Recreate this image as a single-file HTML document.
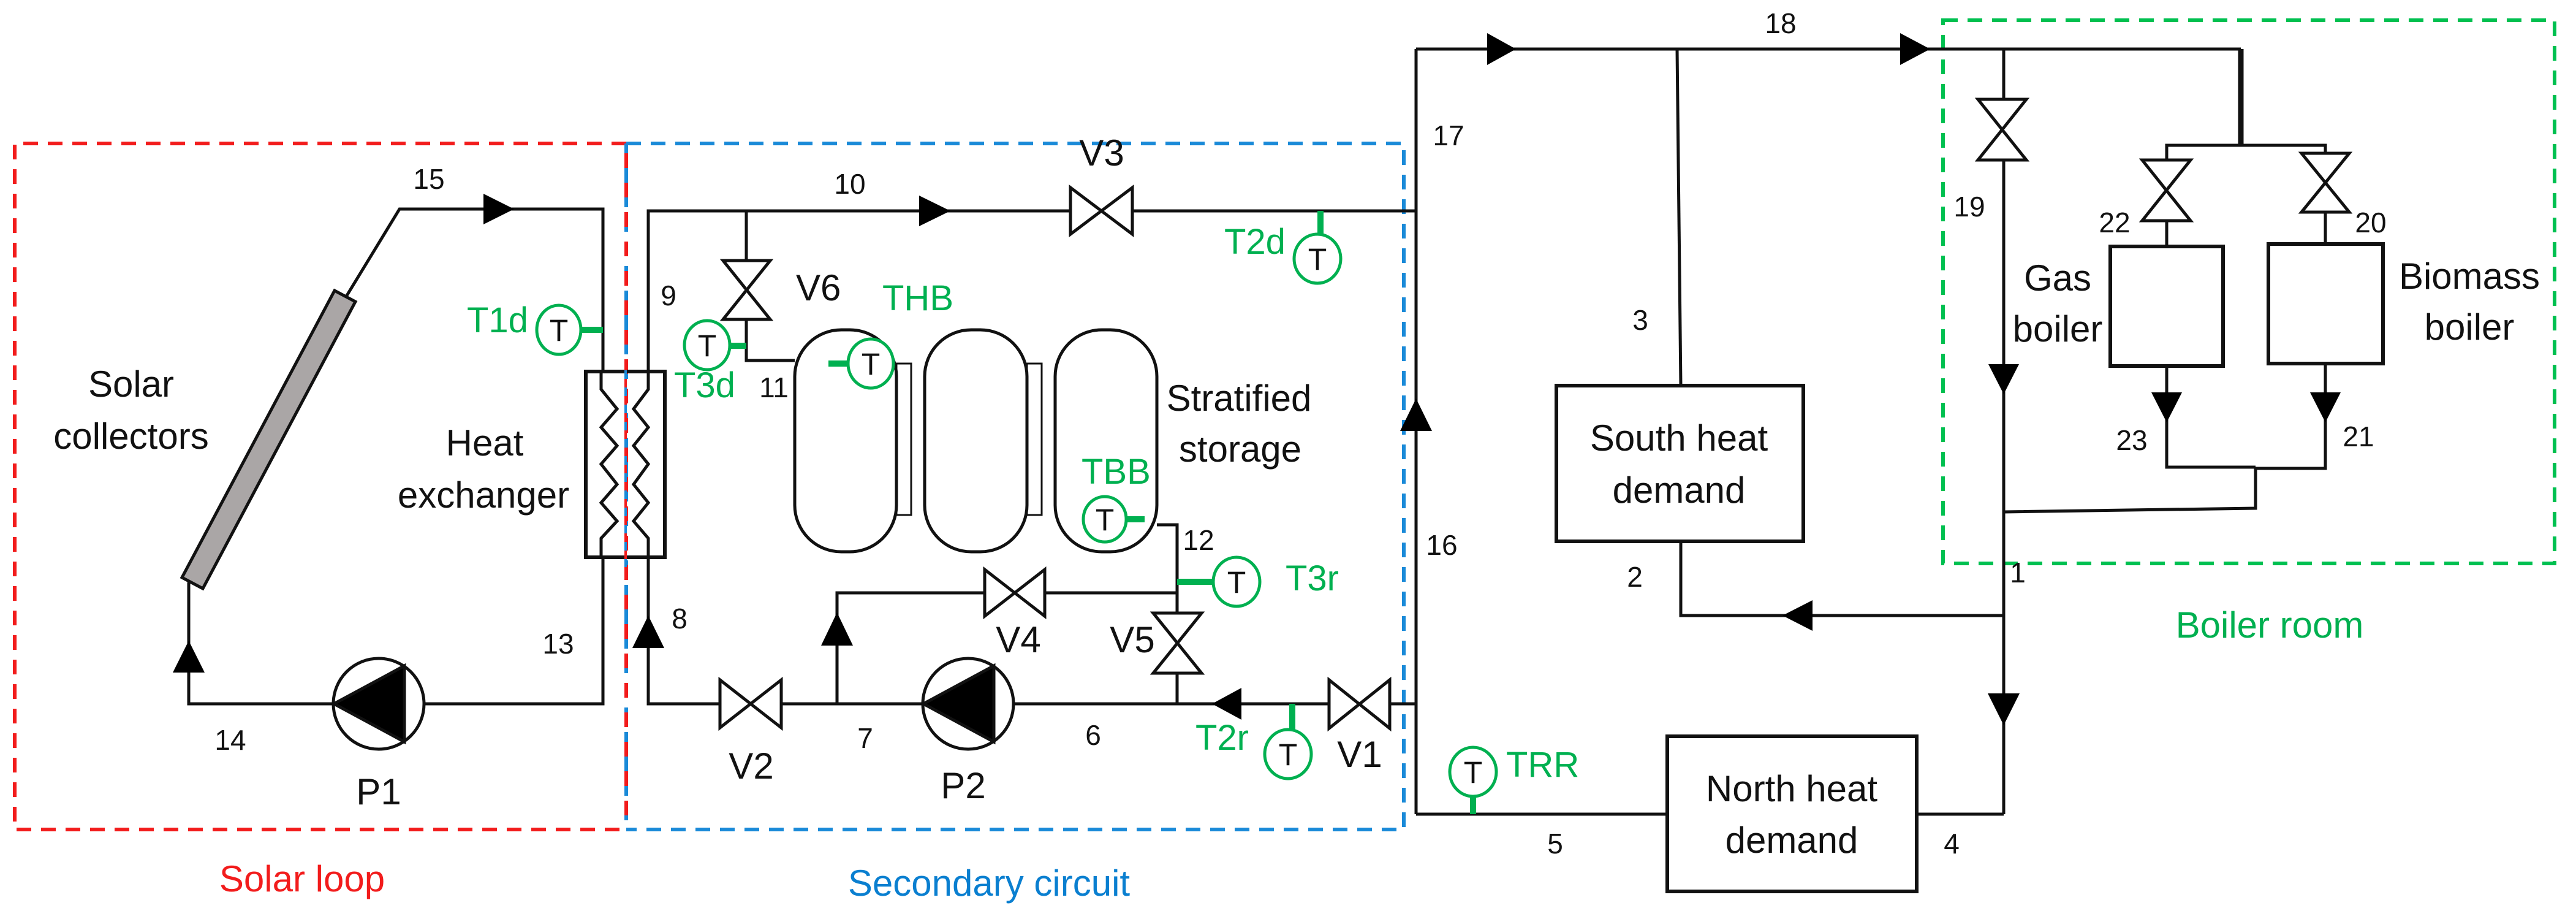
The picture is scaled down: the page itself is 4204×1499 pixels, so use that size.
<!DOCTYPE html>
<html><head><meta charset="utf-8"><style>
html,body{margin:0;padding:0;background:#fff;}
svg{display:block;}
text{font-family:"Liberation Sans",sans-serif;}
.l{font-size:60px;fill:#111;text-anchor:middle;}
.n{font-size:46px;fill:#111;text-anchor:middle;}
.g{font-size:58px;fill:#00b050;}
.t{font-size:50px;fill:#111;text-anchor:middle;}
</style></head><body>
<svg width="4204" height="1499" viewBox="0 0 4204 1499" xmlns="http://www.w3.org/2000/svg">
<rect width="4204" height="1499" fill="#fff"/>
<!-- dashed boxes -->
<g fill="none" stroke-width="6" stroke-dasharray="24 16">
<path d="M1022,234 H24 V1353 H1022" stroke="#f21c1c"/>
<path d="M1022,234 H2291 V1353 H1022" stroke="#1a8ad8"/>
<path d="M1022,234 V1353" stroke="#1a8ad8"/>
<path d="M1022,250 V1353" stroke="#f21c1c" stroke-dasharray="24 24"/>
<rect x="3171" y="33" width="998" height="886" stroke="#00c050"/>
</g>
<!-- pipes -->
<g fill="none" stroke="#111" stroke-width="5">
<!-- solar loop -->
<polyline points="566,482 652,341 984,341 984,606"/>
<polyline points="984,909 984,1148 691,1148"/>
<polyline points="545,1148 308,1148 308,950"/>
<!-- secondary -->
<polyline points="1058,606 1058,344 2311,344"/>
<polyline points="1058,909 1058,1148 1175,1148"/>
<line x1="1275" y1="1148" x2="1506" y2="1148"/>
<line x1="1654" y1="1148" x2="2169" y2="1148"/>
<line x1="2268" y1="1148" x2="2311" y2="1148"/>
<polyline points="1218,344 1218,425"/>
<polyline points="1218,521 1218,588 1297,588"/>
<polyline points="1888,856 1921,856 1921,1000"/>
<line x1="1921" y1="1098" x2="1921" y2="1148"/>
<polyline points="1366,1148 1366,967 1607,967"/>
<line x1="1705" y1="967" x2="1921" y2="967"/>
<!-- riser and distribution -->
<line x1="2311" y1="1328" x2="2311" y2="80"/>
<line x1="2311" y1="80" x2="3657" y2="80"/>
<line x1="2737" y1="80" x2="2743" y2="629"/>
<polyline points="2743,883 2743,1004 3270,1004"/>
<line x1="3270" y1="80" x2="3270" y2="162"/>
<line x1="3270" y1="261" x2="3270" y2="1328"/>
<polyline points="3270,1328 3128,1328"/>
<line x1="2721" y1="1328" x2="2311" y2="1328"/>
<line x1="3657" y1="80" x2="3657" y2="237" stroke-width="9"/>
<polyline points="3536,261 3536,237 3795,237 3795,250"/>
<line x1="3536" y1="360" x2="3536" y2="402"/>
<line x1="3795" y1="346" x2="3795" y2="398"/>
<polyline points="3536,597 3536,762 3681,762"/>
<polyline points="3795,593 3795,764 3681,764 3681,829 3270,835"/>
</g>
<!-- collector -->
<polygon points="546,474 580,492 331,960 297,942" fill="#aaa6a6" stroke="#111" stroke-width="5"/>
<!-- heat exchanger -->
<rect x="956" y="606" width="129" height="303" fill="none" stroke="#111" stroke-width="6"/>
<g fill="none" stroke="#111" stroke-width="5">
<polyline points="981,606 981,635 1007,667 981,697 1007,727 981,757 1007,790 981,820 1007,850 981,878 981,909"/>
<polyline points="1058,606 1058,635 1034,667 1058,697 1034,727 1058,757 1034,790 1058,820 1034,850 1058,878 1058,909"/>
</g>
<line x1="1021" y1="590" x2="1021" y2="925" stroke="#1a8ad8" stroke-width="4"/>
<line x1="1021" y1="590" x2="1021" y2="925" stroke="#f21c1c" stroke-width="4" stroke-dasharray="14 14"/>
<!-- tanks -->
<g fill="#fff" stroke="#111" stroke-width="5">
<rect x="1463" y="593" width="24" height="247" stroke-width="3"/>
<rect x="1676" y="593" width="24" height="247" stroke-width="3"/>
<rect x="1297" y="538" width="166" height="362" rx="76"/>
<rect x="1509" y="538" width="167" height="362" rx="76"/>
<rect x="1722" y="538" width="166" height="362" rx="76"/>
</g>
<!-- boxes -->
<g fill="#fff" stroke="#111" stroke-width="6">
<rect x="2540" y="629" width="403" height="254"/>
<rect x="2721" y="1201" width="407" height="253"/>
<rect x="3444" y="402" width="184" height="195"/>
<rect x="3702" y="398" width="187" height="195"/>
</g>
<!-- valves -->
<g fill="#fff" stroke="#111" stroke-width="5">
<polygon points="1747,306 1747,382 1848,306 1848,382"/>
<polygon points="1175,1109 1175,1187 1275,1109 1275,1187"/>
<polygon points="1607,929 1607,1005 1705,929 1705,1005"/>
<polygon points="2169,1109 2169,1188 2268,1109 2268,1188"/>
<polygon points="1180,425 1257,425 1180,521 1257,521"/>
<polygon points="1882,1000 1961,1000 1882,1098 1961,1098"/>
<polygon points="3228,162 3307,162 3228,261 3307,261"/>
<polygon points="3496,261 3575,261 3496,360 3575,360"/>
<polygon points="3756,250 3834,250 3756,346 3834,346"/>
</g>
<!-- pumps -->
<g stroke="#111" stroke-width="5">
<circle cx="618" cy="1148" r="74" fill="#fff"/>
<polygon points="545,1148 660,1086 660,1210" fill="#000"/>
<circle cx="1580" cy="1148" r="74" fill="#fff"/>
<polygon points="1507,1148 1622,1086 1622,1210" fill="#000"/>
</g>
<!-- arrows -->
<g fill="#000">
<polygon points="789,316 839,341 789,366"/>
<polygon points="282,1097 308,1045 334,1097"/>
<polygon points="1500,319 1551,344 1500,369"/>
<polygon points="1032,1057 1058,1004 1084,1057"/>
<polygon points="1340,1053 1366,999 1392,1053"/>
<polygon points="2026,1122 1978,1148 2026,1174"/>
<polygon points="2285,703 2311,650 2337,703"/>
<polygon points="2427,54 2474,80 2427,106"/>
<polygon points="3101,54 3150,80 3101,106"/>
<polygon points="2958,979 2909,1004 2958,1029"/>
<polygon points="3245,594 3270,643 3295,594"/>
<polygon points="3244,1131 3270,1183 3296,1131"/>
<polygon points="3511,640 3536,689 3561,640"/>
<polygon points="3770,640 3795,689 3820,640"/>
</g>
<!-- sensors -->
<g stroke="#00b050" stroke-width="10">
<line x1="947" y1="538" x2="984" y2="538"/>
<line x1="1188" y1="564" x2="1218" y2="564"/>
<line x1="1352" y1="593" x2="1384" y2="593"/>
<line x1="1836" y1="847" x2="1868" y2="847"/>
<line x1="1921" y1="949" x2="1982" y2="949"/>
<line x1="2155" y1="344" x2="2155" y2="384"/>
<line x1="2109" y1="1148" x2="2109" y2="1193"/>
<line x1="2404" y1="1298" x2="2404" y2="1328"/>
</g>
<g fill="#fff" stroke="#00b050" stroke-width="5">
<ellipse cx="912" cy="538" rx="36" ry="40"/>
<ellipse cx="1154" cy="563" rx="37" ry="40"/>
<ellipse cx="1421" cy="593" rx="37" ry="40"/>
<ellipse cx="1803" cy="847" rx="35" ry="37"/>
<ellipse cx="2018" cy="949" rx="38" ry="40"/>
<ellipse cx="2150" cy="422" rx="38" ry="40"/>
<ellipse cx="2102" cy="1230" rx="38" ry="40"/>
<ellipse cx="2404" cy="1259" rx="38" ry="40"/>
</g>
<g class="t">
<text x="912" y="556" class="t">T</text>
<text x="1154" y="581" class="t">T</text>
<text x="1421" y="611" class="t">T</text>
<text x="1803" y="865" class="t">T</text>
<text x="2018" y="967" class="t">T</text>
<text x="2150" y="440" class="t">T</text>
<text x="2102" y="1248" class="t">T</text>
<text x="2404" y="1277" class="t">T</text>
</g>
<g class="g">
<text x="762" y="542" class="g">T1d</text>
<text x="1100" y="648" class="g">T3d</text>
<text x="1440" y="506" class="g">THB</text>
<text x="1765" y="789" class="g">TBB</text>
<text x="2098" y="963" class="g">T3r</text>
<text x="1998" y="414" class="g">T2d</text>
<text x="1951" y="1223" class="g">T2r</text>
<text x="2458" y="1267" class="g">TRR</text>
</g>
<!-- labels -->
<text x="214" y="647" class="l">Solar</text>
<text x="214" y="732" class="l">collectors</text>
<text x="791" y="743" class="l">Heat</text>
<text x="789" y="828" class="l">exchanger</text>
<text x="2022" y="670" class="l">Stratified</text>
<text x="2024" y="753" class="l">storage</text>
<text x="2740" y="735" class="l">South heat</text>
<text x="2740" y="820" class="l">demand</text>
<text x="2924" y="1307" class="l">North heat</text>
<text x="2924" y="1391" class="l">demand</text>
<text x="3358" y="474" class="l">Gas</text>
<text x="3358" y="557" class="l">boiler</text>
<text x="4030" y="471" class="l">Biomass</text>
<text x="4030" y="554" class="l">boiler</text>
<text x="1798" y="270" class="l">V3</text>
<text x="1299" y="490" class="l" text-anchor="start" style="text-anchor:start">V6</text>
<text x="1226" y="1270" class="l">V2</text>
<text x="1662" y="1064" class="l">V4</text>
<text x="1848" y="1064" class="l">V5</text>
<text x="2219" y="1251" class="l">V1</text>
<text x="618" y="1312" class="l">P1</text>
<text x="1572" y="1302" class="l">P2</text>
<text x="493" y="1454" class="l" style="fill:#f21c1c">Solar loop</text>
<text x="1614" y="1461" class="l" style="fill:#0a7fd0">Secondary circuit</text>
<text x="3704" y="1040" class="l" style="fill:#00b050">Boiler room</text>
<!-- numbers -->
<g class="n">
<text x="700" y="308">15</text>
<text x="376" y="1223">14</text>
<text x="911" y="1066">13</text>
<text x="1109" y="1025">8</text>
<text x="1091" y="498">9</text>
<text x="1387" y="316">10</text>
<text x="1263" y="648">11</text>
<text x="1956" y="897">12</text>
<text x="1412" y="1220">7</text>
<text x="1784" y="1215">6</text>
<text x="2353" y="905">16</text>
<text x="2364" y="237">17</text>
<text x="2906" y="54">18</text>
<text x="2677" y="538">3</text>
<text x="2668" y="957">2</text>
<text x="3293" y="950">1</text>
<text x="2538" y="1392">5</text>
<text x="3185" y="1392">4</text>
<text x="3214" y="353">19</text>
<text x="3451" y="379">22</text>
<text x="3869" y="379">20</text>
<text x="3479" y="734">23</text>
<text x="3849" y="728">21</text>
</g>
</svg>
</body></html>
